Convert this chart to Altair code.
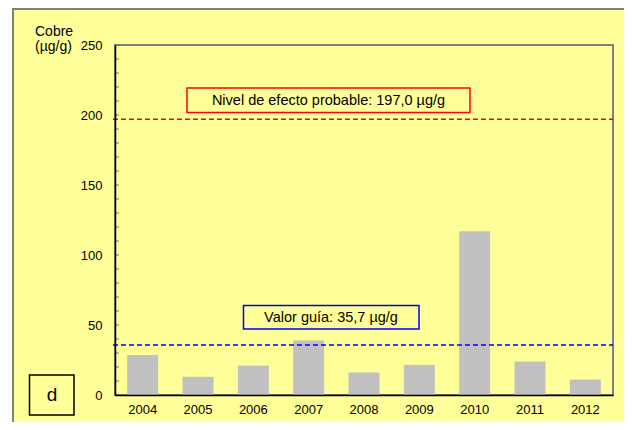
import altair as alt
import pandas as pd

# ---- data ----
years = ["2004", "2005", "2006", "2007", "2008", "2009", "2010", "2011", "2012"]
cobre = [28.5, 13, 21, 39, 16, 21.5, 117, 24, 11]
y_ticks = [0, 50, 100, 150, 200, 250]
minor_ticks = list(range(0, 251, 10))
pel_value = 197.0
guia_value = 35.7
pel_label = "Nivel de efecto probable: 197,0 µg/g"
guia_label = "Valor guía: 35,7 µg/g"
y_title = ["Cobre", "(µg/g)"]
panel_label = "d"

W, H = 498, 350
FONT = "Liberation Sans"
YELLOW = "#FFFF99"
GRAY = "#808080"

one = pd.DataFrame({"k": [0]})
bars_df = pd.DataFrame({"year": years, "value": cobre})
ticks_df = pd.DataFrame({"t": minor_ticks})

yscale = alt.Scale(domain=[0, 250], nice=False, zero=True)

# outer frame (left white strip + gray left/top border)
strip = alt.Chart(one).mark_rect(fill="white").encode(
    x=alt.value(-107), x2=alt.value(-103), y=alt.value(-37), y2=alt.value(377))
frame_left = alt.Chart(one).mark_rule(color=GRAY, strokeWidth=2).encode(
    x=alt.value(-102), y=alt.value(-37), y2=alt.value(377))
frame_top = alt.Chart(one).mark_rule(color=GRAY, strokeWidth=2).encode(
    x=alt.value(-103), x2=alt.value(520), y=alt.value(-36))

# plot area border
plot_border = alt.Chart(one).mark_rect(fill=YELLOW, stroke=GRAY, strokeWidth=2).encode(
    x=alt.value(0), x2=alt.value(W), y=alt.value(0), y2=alt.value(H))

bars = alt.Chart(bars_df).mark_bar(color="#C0C0C0").encode(
    x=alt.X("year:N", sort=years,
            scale=alt.Scale(paddingInner=0.44, paddingOuter=0.22),
            axis=alt.Axis(title=None, labelAngle=0, ticks=False, domainColor="#000000",
                          domainWidth=1.5, labelFont=FONT, labelFontSize=13,
                          labelColor="#000000", labelPadding=8, grid=False, zindex=1)),
    y=alt.Y("value:Q", scale=yscale,
            axis=alt.Axis(title=None, values=y_ticks, ticks=False, domainColor="#000000",
                          domainWidth=1.5, labelFont=FONT, labelFontSize=13,
                          labelColor="#000000", labelPadding=13, grid=False, zindex=1)),
)

minor = alt.Chart(ticks_df).mark_rule(color="#707070", strokeWidth=1).encode(
    x=alt.value(0), x2=alt.value(4), y=alt.Y("t:Q", scale=yscale))

pel_line = alt.Chart(pd.DataFrame({"v": [pel_value]})).mark_rule(
    color="#FF0000", strokeWidth=1.5, strokeDash=[5, 3]).encode(
    x=alt.value(-2), x2=alt.value(W), y=alt.Y("v:Q", scale=yscale))
guia_line = alt.Chart(pd.DataFrame({"v": [guia_value]})).mark_rule(
    color="#0000FF", strokeWidth=1.5, strokeDash=[5, 3]).encode(
    x=alt.value(-2), x2=alt.value(W), y=alt.Y("v:Q", scale=yscale))

pel_box = alt.Chart(one).mark_rect(fill=YELLOW, stroke="#FF0000", strokeWidth=1.5).encode(
    x=alt.value(72), x2=alt.value(355), y=alt.value(43), y2=alt.value(67.5))
pel_text = alt.Chart(one).mark_text(font=FONT, fontSize=14.5, color="#000000",
                                    align="center", baseline="middle").encode(
    x=alt.value(213.5), y=alt.value(56), text=alt.value(pel_label))

guia_box = alt.Chart(one).mark_rect(fill=YELLOW, stroke="#0000FF", strokeWidth=1.5).encode(
    x=alt.value(128.5), x2=alt.value(304), y=alt.value(260.5), y2=alt.value(284))
guia_text = alt.Chart(one).mark_text(font=FONT, fontSize=14.5, color="#000000",
                                     align="center", baseline="middle").encode(
    x=alt.value(216), y=alt.value(273), text=alt.value(guia_label))

title1 = alt.Chart(one).mark_text(font=FONT, fontSize=14, color="#000000",
                                  align="left", baseline="alphabetic").encode(
    x=alt.value(-80), y=alt.value(-9), text=alt.value(y_title[0]))
title2 = alt.Chart(one).mark_text(font=FONT, fontSize=14, color="#000000",
                                  align="left", baseline="alphabetic").encode(
    x=alt.value(-80), y=alt.value(6), text=alt.value(y_title[1]))

d_box = alt.Chart(one).mark_rect(fill=YELLOW, stroke="#000000", strokeWidth=1.5).encode(
    x=alt.value(-85.5), x2=alt.value(-41), y=alt.value(330), y2=alt.value(370))
d_text = alt.Chart(one).mark_text(font=FONT, fontSize=19, color="#000000",
                                  align="center", baseline="middle").encode(
    x=alt.value(-63), y=alt.value(350), text=alt.value(panel_label))

chart = alt.layer(
    strip, frame_left, frame_top, plot_border, bars, minor, pel_line, guia_line,
    pel_box, pel_text, guia_box, guia_text, title1, title2, d_box, d_text
).properties(
    width=W, height=H,
    autosize=alt.AutoSizeParams(type="none"),
    padding={"left": 107, "top": 37, "right": 11, "bottom": 27},
    background=YELLOW,
).configure_view(stroke=None)

chart.save("out.html", embed_options={"renderer": "svg", "actions": False})
